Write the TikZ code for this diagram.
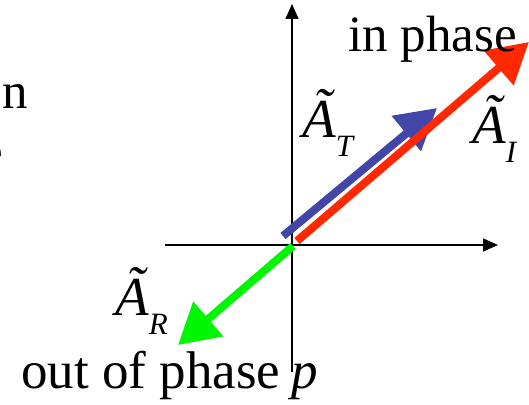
\documentclass[tikz,border=0pt]{standalone}
\usepackage{fontspec}
\setmainfont{Liberation Serif}
\usetikzlibrary{arrows.meta}
\definecolor{inred}{RGB}{255,40,0}
\definecolor{tblue}{RGB}{66,70,168}
\definecolor{rgreen}{RGB}{0,245,0}
\newcommand{\amp}[1]{\itshape\rlap{\hspace{0.2em}\raisebox{0.2em}{\char"02DC}}A\raisebox{-19pt}{\fontsize{31}{31}\selectfont\itshape #1}}

\begin{document}
\begin{tikzpicture}[
  x=1pt, y=-1pt,
  axis/.style={line width=1.6pt, -{Triangle[length=15pt, width=13pt]}},
  phasor/.style={line width=8pt, -{Triangle[length=40pt, width=44pt]}},
  lbl/.style={inner sep=0pt, font=\fontsize{51}{60}\selectfont},
  sym/.style={inner sep=0pt, font=\fontsize{55}{60}\selectfont}
]
\useasboundingbox (0,0) rectangle (529,404);

% Axes
\coordinate (O) at (292,245);
\coordinate (xl) at (165,245);
\coordinate (xr) at (498,245);
\coordinate (yb) at (292,372);
\coordinate (yt) at (292,4);
\draw[axis] (xl) -- (xr);
\draw[axis] (yb) -- (yt);

% Phasors
\coordinate (Ts) at (283,236);
\coordinate (Te) at (437,108);
\coordinate (Is) at (297,241);
\coordinate (Ie) at (529,42);
\coordinate (Rs) at (293,246);
\coordinate (Re) at (178,345);
\draw[phasor, tblue] (Ts) -- (Te);
\draw[phasor, inred] (Is) -- (Ie);
\draw[phasor, rgreen] (Rs) -- (Re);

% Labels
\node[lbl, anchor=base west] (inph) at (348,52) {in phase};
\node[lbl, anchor=base west, font=\fontsize{53}{60}\selectfont] (outph) at (21,388) {out of phase};
\node[lbl, anchor=base west, font=\fontsize{53}{60}\selectfont] (plbl) at (291,388) {\itshape p};
\node[lbl, anchor=base east] (cutn) at (28,108) {n};
\node[lbl, anchor=base east] (cute) at (3,168) {e};
\node[sym, anchor=base west] (lblT) at (302,137) {\amp{T}};
\node[sym, anchor=base west] (lblI) at (472,143) {\amp{I}};
\node[sym, anchor=base west] (lblR) at (115,315) {\amp{R}};

\end{tikzpicture}
\end{document}
